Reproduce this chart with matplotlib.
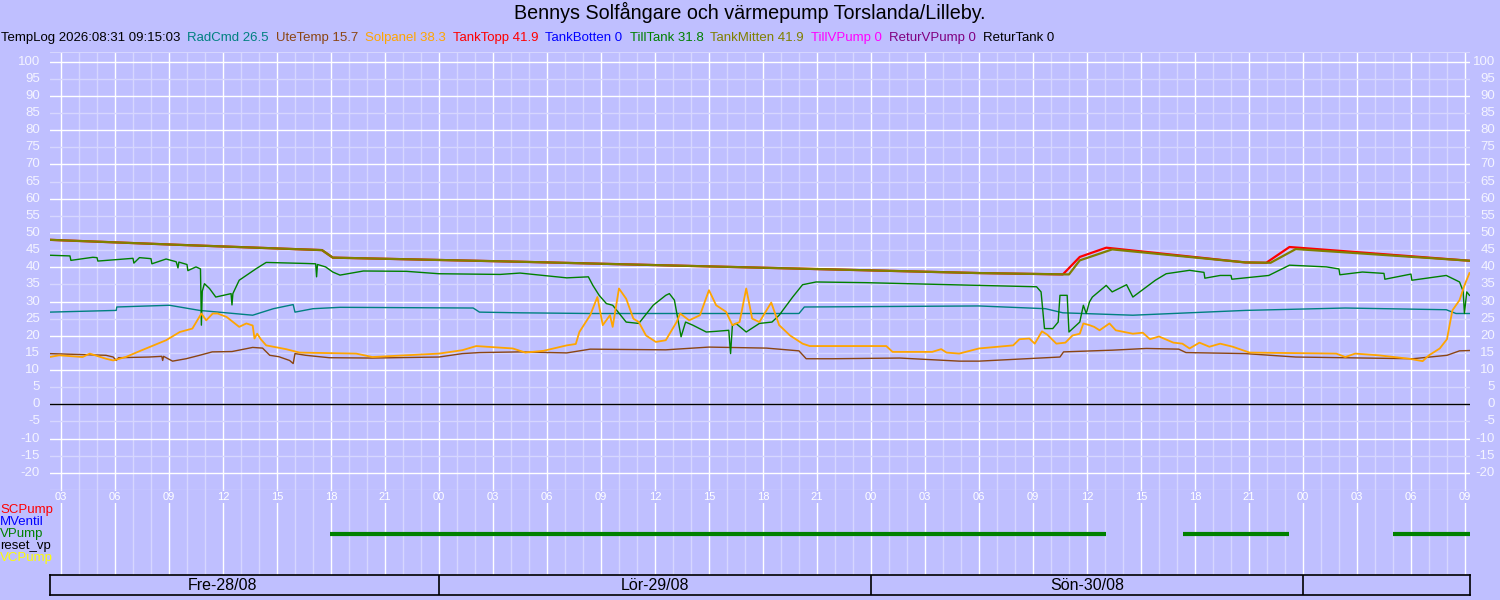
import matplotlib
matplotlib.use("Agg")
import matplotlib.pyplot as plt
from matplotlib.transforms import blended_transform_factory

plt.rcParams['font.family'] = ['Liberation Sans', 'DejaVu Sans']

# time axis: hours since Fre 28/08 00:00
t_start = 2.39
t_end = 81.28

title = "Bennys Solfångare och värmepump Torslanda/Lilleby."
stamp = "TempLog 2026:08:31 09:15:03"

# current values shown in the header
names = ["RadCmd", "UteTemp", "Solpanel", "TankTopp", "TankBotten", "TillTank",
         "TankMitten", "TillVPump", "ReturVPump", "ReturTank"]
current = ["26.5", "15.7", "38.3", "41.9", "0", "31.8", "41.9", "0", "0", "0"]
colors = ["#008080", "#8b4513", "#ffa500", "#ff0000", "#0000ff", "#008000",
          "#808000", "#ff00ff", "#800080", "#000000"]

tanktopp_t = [2.36, 9.2, 17.5, 18.1, 28.5, 54.0, 58.66, 59.6, 61.07, 68.8, 69.96, 71.25, 81.25]
tanktopp_v = [48.0, 46.6, 45.0, 42.8, 41.6, 38.3, 37.9, 43.0, 45.7, 41.4, 41.3, 45.9, 41.9]

tankmitten_t = [2.36, 9.2, 17.5, 18.1, 28.5, 54.0, 59.0, 59.6, 61.4, 68.8, 70.2, 71.6, 81.25]
tankmitten_v = [48.0, 46.6, 45.0, 42.8, 41.6, 38.3, 37.9, 42.0, 45.2, 41.4, 41.3, 45.3, 41.9]

tilltank_t = [2.36, 3.5, 3.55, 4.77, 5.0, 5.05, 7.0, 7.05, 7.36, 8.0, 8.05, 8.84, 9.4, 9.5, 9.55,
              10.0, 10.05, 10.5, 10.75, 10.8, 10.85, 10.97, 11.25, 11.6, 12.45, 12.5, 12.55,
              12.9, 13.85, 14.4, 16.6, 17.15, 17.2, 17.25, 17.7, 18.1, 18.5, 19.8, 22.2,
              24.0, 27.4, 28.5, 31.1, 32.3, 32.55, 32.9, 33.3, 33.65, 34.4, 35.1, 35.9,
              36.6, 36.8, 37.08, 37.45, 37.7, 38.1, 38.85, 39.4, 40.1, 40.2, 40.3, 40.5,
              41.07, 41.8, 42.5, 42.9, 43.65, 44.2, 44.95, 47.7, 54.0, 57.2, 57.45, 57.64,
              58.1, 58.4, 58.5, 58.9, 59.0, 59.6, 59.8, 59.96, 60.14, 60.3, 61.07, 61.4,
              62.2, 62.55, 63.8, 64.4, 65.7, 66.5, 66.55, 67.4, 68.0, 68.05, 70.1, 71.25,
              73.3, 74.0, 74.05, 75.3, 76.5, 76.55, 78.0, 78.05, 79.96, 80.7, 80.9, 80.97,
              81.1, 81.25]
tilltank_v = [43.5, 43.3, 42.0, 42.9, 42.8, 41.8, 42.6, 41.2, 42.8, 42.5, 41.0, 42.4, 41.6, 39.8, 41.5,
              40.8, 39.0, 40.1, 39.5, 23.1, 33.0, 35.2, 33.8, 31.3, 32.3, 29.0, 32.3,
              36.2, 39.6, 41.4, 41.1, 41.0, 37.2, 40.8, 40.1, 38.6, 37.7, 38.9, 38.8,
              38.1, 37.9, 38.3, 36.9, 37.2, 34.7, 31.8, 29.4, 28.9, 24.0, 23.6, 28.9,
              31.8, 32.3, 30.4, 19.7, 24.0, 23.1, 21.1, 21.3, 21.6, 14.8, 23.0, 23.6,
              21.1, 23.6, 24.0, 26.0, 31.3, 34.9, 35.7, 35.5, 34.7, 34.3, 32.8, 22.1,
              22.1, 24.0, 31.8, 31.8, 21.1, 24.0, 28.9, 26.5, 29.9, 31.3, 34.7, 32.8,
              34.9, 31.3, 36.2, 38.1, 39.1, 38.5, 36.8, 37.6, 37.6, 36.5, 37.6, 40.6,
              40.1, 39.5, 37.8, 38.6, 38.2, 36.5, 38.0, 36.2, 37.6, 35.7, 33.0, 26.5,
              32.8, 31.8]

radcmd_t = [2.36, 6.07, 6.1, 9.03, 10.7, 13.65, 14.8, 15.9, 16.0, 17.0, 18.5, 25.9, 26.25,
            28.5, 32.4, 36.6, 44.0, 44.3, 54.0, 57.7, 58.66, 62.55, 68.8, 74.35, 79.96,
            80.5, 81.25]
radcmd_v = [26.9, 27.4, 28.4, 28.9, 27.4, 26.0, 27.9, 29.1, 26.9, 27.9, 28.3, 28.1, 26.9,
            26.7, 26.5, 26.5, 26.5, 28.4, 28.7, 27.9, 26.7, 26.0, 27.4, 28.1, 27.6,
            26.5, 26.5]

solpanel_t = [2.36, 2.9, 4.2, 4.6, 5.5, 5.9, 6.6, 7.36, 8.84, 9.6, 10.3, 10.8, 11.07, 11.43,
              11.7, 12.2, 12.9, 13.3, 13.65, 13.75, 13.9, 14.1, 14.4, 15.5, 16.25, 19.4, 20.3,
              24.0, 25.3, 26.07, 28.1, 28.8, 29.8, 31.1, 31.6, 31.8, 32.4, 32.8, 33.1, 33.5,
              33.65, 34.0, 34.4, 34.8, 35.1, 35.5, 36.05, 36.6, 37.2, 37.4, 37.9, 38.5,
              39.0, 39.4, 39.95, 40.3, 40.7, 41.07, 41.4, 41.8, 42.46, 42.9, 43.5, 44.2,
              44.6, 48.85, 49.2, 51.4, 51.9, 52.2, 52.9, 54.0, 55.9, 56.25, 56.8, 57.1,
              57.5, 57.8, 58.3, 58.8, 59.2, 59.6, 59.8, 60.14, 60.4, 60.7, 61.25, 61.6,
              62.55, 63.1, 63.5, 64.0, 64.8, 65.3, 65.7, 66.25, 66.8, 67.4, 68.1, 69.03,
              73.85, 74.35, 74.9, 76.2, 77.9, 78.65, 79.0, 79.6, 80.0, 80.3, 80.7, 80.97,
              81.25]
solpanel_v = [13.8, 14.3, 13.8, 14.8, 13.3, 12.8, 13.8, 15.5, 18.7, 21.1, 22.1, 26.5, 24.5, 26.5,
              26.5, 25.5, 22.6, 23.6, 23.0, 19.2, 20.6, 19.0, 17.2, 16.1, 15.1, 14.8, 13.8,
              14.8, 15.8, 17.0, 16.3, 15.1, 15.6, 17.2, 17.6, 21.1, 26.0, 31.3, 23.1, 26.0,
              22.6, 33.8, 30.8, 25.0, 24.0, 20.1, 18.2, 18.7, 24.0, 26.5, 24.5, 26.0,
              33.3, 28.9, 27.0, 23.1, 24.0, 33.8, 25.0, 24.0, 29.7, 23.1, 20.1, 17.7,
              17.0, 17.0, 15.3, 15.3, 16.1, 15.1, 14.8, 16.3, 17.2, 19.0, 19.2, 17.7,
              21.3, 20.3, 17.7, 18.0, 20.1, 20.6, 23.6, 23.1, 22.6, 21.6, 23.6, 21.6,
              20.6, 20.9, 19.0, 19.8, 18.0, 17.7, 16.3, 18.0, 16.8, 17.7, 16.8, 15.1,
              14.8, 13.8, 14.8, 14.3, 13.3, 12.6, 14.3, 16.3, 19.0, 27.4, 30.4, 34.7,
              38.3]

utetemp_t = [2.36, 5.5, 5.9, 6.07, 6.2, 7.9, 8.6, 8.65, 8.7, 9.2, 9.95, 10.7, 11.4, 12.5,
             13.65, 14.2, 14.6, 15.1, 15.7, 15.9, 16.0, 16.6, 17.9, 20.3, 24.0, 25.3, 26.25,
             28.5, 31.1, 32.4, 36.6, 39.0, 42.2, 44.0, 44.4, 45.9, 49.6, 52.9, 54.0, 58.5,
             58.7, 61.4, 63.3, 65.1, 65.5, 68.8, 71.6, 78.1, 80.0, 80.7, 81.25]
utetemp_v = [14.8, 14.3, 13.8, 12.8, 13.6, 13.8, 14.0, 12.8, 14.0, 12.6, 13.3, 14.3, 15.3, 15.4,
             16.6, 16.4, 14.3, 13.9, 12.8, 11.9, 14.8, 14.3, 13.6, 13.5, 13.8, 14.8, 15.1,
             15.3, 15.0, 16.1, 15.9, 16.7, 16.4, 15.6, 13.3, 13.3, 13.5, 12.6, 12.6, 13.8,
             15.3, 15.8, 16.3, 16.1, 15.1, 14.8, 13.8, 13.3, 14.3, 15.6, 15.7]

zero_t = [2.36, 81.25]
zero_v = [0, 0]

# pumps (on intervals, hours)
pump_names = ["SCPump", "MVentil", "VPump", "reset_vp", "VCPump"]
pump_colors = ["#ff0000", "#0000ff", "#008000", "#000000", "#ffff00"]
vpump_on = [(17.97, 61.08), (65.36, 71.25), (77.0, 81.28)]

days = ["Fre-28/08", "Lör-29/08", "Sön-30/08", "Mån-31/08"]

bg = "#bfbfff"
minor_c = "#d6d6ff"
W, H = 1500, 600

fig = plt.figure(figsize=(15, 6), dpi=100, facecolor=bg)

# main temperature panel
ax = fig.add_axes([50 / W, 110 / H, 1420 / W, 438 / H], facecolor=bg)
ax.set_xlim(t_start, t_end)
ax.set_ylim(-25, 102.8)
for s in ax.spines.values():
    s.set_visible(False)
ax.set_xticks([])
ax.set_yticks([])

for h in range(3, 82):
    ax.axvline(h, color="white" if h % 3 == 0 else minor_c, lw=1, zorder=0)
for v in range(-25, 101, 5):
    ax.axhline(v, color="white" if v % 10 == 0 else minor_c, lw=1, zorder=0)
ax.axhline(102.8, color=minor_c, lw=1.5, zorder=0)

lw = 1.0
ax.plot(radcmd_t, radcmd_v, color=colors[0], lw=lw)
ax.plot(utetemp_t, utetemp_v, color=colors[1], lw=lw)
ax.plot(tanktopp_t, tanktopp_v, color=colors[3], lw=1.6)
ax.plot(tankmitten_t, tankmitten_v, color=colors[6], lw=1.6)
ax.plot(tilltank_t, tilltank_v, color=colors[5], lw=lw)
ax.plot(solpanel_t, solpanel_v, color=colors[2], lw=1.3)
ax.plot(zero_t, zero_v, color="black", lw=1)

# y labels both sides
ytr_l = blended_transform_factory(fig.transFigure, ax.transData)
for v in range(-20, 101, 5):
    ax.text(40 / W, v, str(v), transform=ytr_l, ha="right", va="center",
            color="#f4f4ff", fontsize=9.5)
    ax.text(1495 / W, v, str(v), transform=ytr_l, ha="right", va="center",
            color="#f4f4ff", fontsize=9.5)

# pump panel
ax2 = fig.add_axes([50 / W, 25 / H, 1420 / W, 85 / H], facecolor="none")
ax2.set_xlim(t_start, t_end)
ax2.set_ylim(85, 0)
for s in ax2.spines.values():
    s.set_visible(False)
ax2.set_xticks([])
ax2.set_yticks([])
for h in range(3, 82):
    ax2.axvline(h, color="white" if h % 3 == 0 else minor_c, lw=1, zorder=0)
for h in range(3, 82, 3):
    ax2.text(h, 7, "%02d" % (h % 24), ha="center", va="center", color="white",
             fontsize=8, bbox=dict(fc=bg, ec="none", pad=0.5))

for a, b in vpump_on:
    ax2.plot([a, b], [44, 44], color=pump_colors[2], lw=3, solid_capstyle="butt")

ptr = blended_transform_factory(fig.transFigure, ax2.transData)
for i, (n, c) in enumerate(zip(pump_names, pump_colors)):
    ax2.text(0, 20 + 12 * i, n, transform=ptr, ha="left", va="center", color=c,
             fontsize=9.5, clip_on=False)

# day boxes
ax3 = fig.add_axes([50 / W, 5 / H, 1420 / W, 20 / H], facecolor="none")
ax3.set_xlim(t_start, t_end)
ax3.set_ylim(0, 1)
ax3.set_xticks([])
ax3.set_yticks([])
for s in ax3.spines.values():
    s.set_color("black")
    s.set_linewidth(1.2)
for i, d in enumerate(days):
    if i > 0:
        ax3.axvline(24 * i, color="black", lw=1.2)
    mid = 24 * i + 12
    if t_start < mid < t_end:
        ax3.text(mid, 0.5, d, ha="center", va="center", fontsize=11.5)

# title and header
fig.text(0.5, 1 - 12 / H, title, ha="center", va="center", fontsize=14.2)
renderer = fig.canvas.get_renderer()
x = 1
entries = [(stamp, "black")] + [(n + " " + v, c) for n, v, c in zip(names, current, colors)]
for label, c in entries:
    txt = fig.text(x / W, 1 - 38 / H, label, ha="left", va="center", color=c, fontsize=9.5)
    bb = txt.get_window_extent(renderer)
    x = bb.x1 + 7

fig.savefig("out.png", dpi=100, facecolor=bg)
